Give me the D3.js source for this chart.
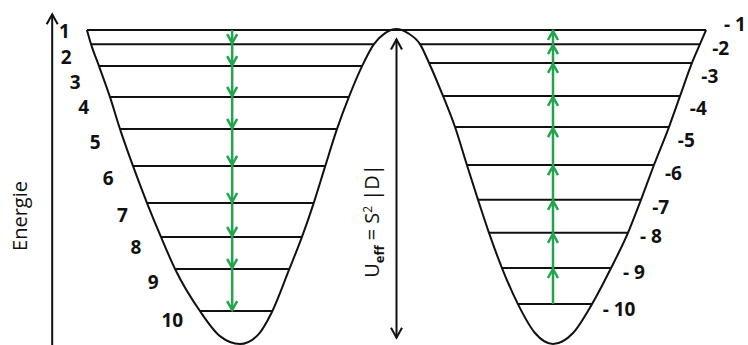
<!DOCTYPE html>
<html>
<head>
<meta charset="utf-8">
<script src="https://cdn.jsdelivr.net/npm/d3@7"></script>
<style>
  html, body { margin: 0; padding: 0; background: #fff; }
  svg { display: block; }
  text { font-family: "Open Sans", Lato, sans-serif; fill: #111; }
</style>
</head>
<body>
<div id="chart"></div>
<script>
// Double-well potential.
// q = orientation coordinate (well minima at -1 and +1), E = energy (0 = well bottom, 100 = top level)
const curveQ = [-1.978, -1.952, -1.901, -1.831, -1.767, -1.684, -1.594, -1.505, -1.415, -1.256, -1.128, -1.0,
                -0.885, -0.796, -0.687, -0.604, -0.527, -0.457, -0.380, -0.304, -0.220, -0.144, -0.073, 0,
                0.073, 0.150, 0.208, 0.297, 0.374, 0.450, 0.521, 0.591, 0.674, 0.776, 0.885, 1.0,
                1.128, 1.249, 1.371, 1.479, 1.562, 1.645, 1.741, 1.812, 1.888, 1.939, 1.978];
const curveE = [100, 95.5, 88.5, 78.7, 68.5, 56.7, 44.9, 34.1, 23.9, 10.5, 2.5, 0,
                2.9, 10.2, 23.6, 34.1, 45.2, 56.4, 68.5, 78.7, 88.5, 95.5, 99.0, 100.3,
                99.0, 95.5, 89.5, 79.0, 69.1, 57.0, 45.9, 35.4, 24.2, 12.7, 3.5, 0,
                3.5, 12.7, 24.2, 35.4, 45.9, 57.0, 69.1, 79.0, 89.5, 95.5, 100];

// Energy levels of the two wells (m = 1..10 and m = -1..-10)
const leftLabels = ["1", "2", "3", "4", "5", "6", "7", "8", "9", "10"];
const leftLevels = [100, 95.5, 88.5, 78.7, 68.5, 56.7, 44.9, 34.1, 23.9, 10.5];
const rightLabels = ["- 1", "-2", "-3", "-4", "-5", "-6", "-7", "- 8", "- 9", "- 10"];
const rightLevels = [100, 95.5, 89.5, 79.0, 69.1, 57.0, 45.9, 35.4, 24.2, 12.7];

// Where the transition ladders run (q), and the barrier arrow span (E)
const transitionQ = [-1.05, 1.0];
const barrierE = [2, 97];

const width = 748;
const height = 345;
const green = "#22a54e";

// label nudges below each level line, in pixels (layout only)
const leftLabelDy = [1, 13, 16, 10, 13, 12, 12, 10, 13, 9];
const rightLabelDy = [-6, 4, 13, 12, 13, 8, 7, 4, 4, 5];

const x = d3.scaleLinear().domain([-1, 1]).range([240, 553]);
const y = d3.scaleLinear().domain([0, 100]).range([344, 30]);

const svg = d3.select("#chart")
    .append("svg")
    .attr("width", width)
    .attr("height", height)
    .attr("viewBox", [0, 0, width, height]);

// Find where the curve crosses an energy, between qMin and qMax.
function crossing(level, qMin, qMax) {
    for (let i = 0; i < curveQ.length - 1; i++) {
        const q0 = curveQ[i], q1 = curveQ[i + 1], e0 = curveE[i], e1 = curveE[i + 1];
        if (q0 < qMin || q1 > qMax) continue;
        if ((e0 - level) * (e1 - level) <= 0 && e0 !== e1) {
            return q0 + (level - e0) / (e1 - e0) * (q1 - q0);
        }
    }
    return null;
}

// Chevron arrowhead with its tip at (tx, ty), pointing up (dir = -1) or down (dir = 1).
function chevron(tx, ty, dir, w, h) {
    return `M${tx - w / 2},${ty - dir * h}L${tx},${ty}L${tx + w / 2},${ty - dir * h}`;
}

// Level lines
const levelGroup = svg.append("g")
    .attr("stroke", "#111")
    .attr("stroke-width", 2);

// top level spans both wells
levelGroup.append("line")
    .attr("x1", x(crossing(leftLevels[0], -3, -1)))
    .attr("x2", x(crossing(rightLevels[0], 1, 3)))
    .attr("y1", y(leftLevels[0]))
    .attr("y2", y(rightLevels[0]));

levelGroup.selectAll(".lvl-left")
    .data(leftLevels.slice(1))
    .join("line")
    .attr("x1", d => x(crossing(d, -3, -1)))
    .attr("x2", d => x(crossing(d, -1, 0)))
    .attr("y1", d => y(d))
    .attr("y2", d => y(d));

levelGroup.selectAll(".lvl-right")
    .data(rightLevels.slice(1))
    .join("line")
    .attr("x1", d => x(crossing(d, 0, 1)))
    .attr("x2", d => x(crossing(d, 1, 3)))
    .attr("y1", d => y(d))
    .attr("y2", d => y(d));

// Potential curve
const line = d3.line()
    .x((d, i) => x(curveQ[i]))
    .y((d, i) => y(curveE[i]))
    .curve(d3.curveMonotoneX);

svg.append("path")
    .attr("d", line(curveQ))
    .attr("fill", "none")
    .attr("stroke", "#111")
    .attr("stroke-width", 2);

// Transition ladders
const ladders = svg.append("g")
    .attr("fill", "none")
    .attr("stroke", green)
    .attr("stroke-width", 2.5);

const lx = x(transitionQ[0]);
ladders.append("line")
    .attr("x1", lx).attr("x2", lx)
    .attr("y1", y(leftLevels[0])).attr("y2", y(leftLevels[leftLevels.length - 1]));
ladders.selectAll(".head-left")
    .data(leftLevels.slice(1))
    .join("path")
    .attr("d", d => chevron(lx, y(d) - 1, 1, 10, 9));

const rx = x(transitionQ[1]);
ladders.append("line")
    .attr("x1", rx).attr("x2", rx)
    .attr("y1", y(rightLevels[rightLevels.length - 1])).attr("y2", y(rightLevels[0]));
ladders.selectAll(".head-right")
    .data(rightLevels.slice(0, -1))
    .join("path")
    .attr("d", d => chevron(rx, y(d) + 1, -1, 10, 9));

// Level labels
const labelGroup = svg.append("g")
    .attr("font-size", 19)
    .attr("font-weight", 700);

labelGroup.selectAll(".lab-left")
    .data(leftLevels)
    .join("text")
    .attr("text-anchor", "end")
    .attr("dy", "0.35em")
    .attr("x", (d, i) => {
        if (i === 0) return x(crossing(d, -3, -1)) - 17;
        return x(crossing(y.invert(y(d) + leftLabelDy[i]), -3, -1)) - 24;
    })
    .attr("y", (d, i) => y(d) + leftLabelDy[i])
    .text((d, i) => leftLabels[i]);

labelGroup.selectAll(".lab-right")
    .data(rightLevels)
    .join("text")
    .attr("text-anchor", "start")
    .attr("dy", "0.35em")
    .attr("x", (d, i) => {
        if (i === 0) return x(crossing(d, 1, 3)) + 18;
        return x(crossing(y.invert(y(d) + rightLabelDy[i]), 1, 3)) + 14;
    })
    .attr("y", (d, i) => y(d) + rightLabelDy[i])
    .text((d, i) => rightLabels[i]);

// Energy axis
const axisX = x(-2.2);
const axisG = svg.append("g")
    .attr("fill", "none")
    .attr("stroke", "#111")
    .attr("stroke-width", 2);
axisG.append("line")
    .attr("x1", axisX).attr("x2", axisX)
    .attr("y1", height).attr("y2", y(105));
axisG.append("path")
    .attr("d", chevron(axisX, y(105), -1, 11, 10));

svg.append("text")
    .attr("transform", `translate(${axisX - 32},216) rotate(-90)`)
    .attr("text-anchor", "middle")
    .attr("dy", "0.35em")
    .attr("font-size", 20)
    .text("Energie");

// Barrier arrow
const bx = x(0);
axisG.append("line")
    .attr("x1", bx).attr("x2", bx)
    .attr("y1", y(barrierE[0])).attr("y2", y(barrierE[1]));
axisG.append("path").attr("d", chevron(bx, y(barrierE[1]), -1, 11, 10));
axisG.append("path").attr("d", chevron(bx, y(barrierE[0]), 1, 11, 10));

const ueff = svg.append("text")
    .attr("transform", `translate(${bx - 25},221) rotate(-90)`)
    .attr("text-anchor", "middle")
    .attr("dy", "0.35em")
    .attr("font-size", 20);
ueff.append("tspan").text("U");
ueff.append("tspan").attr("font-size", 13).attr("font-weight", 700).attr("dy", 5).text("eff");
ueff.append("tspan").attr("dy", -5).text(" = S");
ueff.append("tspan").attr("font-size", 12).attr("dy", -7).text("2");
ueff.append("tspan").attr("dy", 7).text(" |D|");
</script>
</body>
</html>
